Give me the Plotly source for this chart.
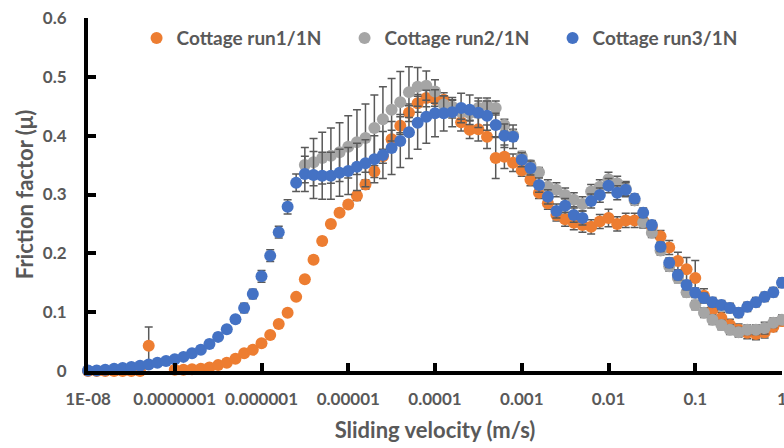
import plotly.graph_objects as go

# Sliding velocity (m/s), ten points per decade from 1E-08 to 1
velocity = [
    1.00e-8, 1.26e-8, 1.58e-8, 2.00e-8, 2.51e-8, 3.16e-8, 3.98e-8, 5.01e-8, 6.31e-8, 7.94e-8,
    1.00e-7, 1.26e-7, 1.58e-7, 2.00e-7, 2.51e-7, 3.16e-7, 3.98e-7, 5.01e-7, 6.31e-7, 7.94e-7,
    1.00e-6, 1.26e-6, 1.58e-6, 2.00e-6, 2.51e-6, 3.16e-6, 3.98e-6, 5.01e-6, 6.31e-6, 7.94e-6,
    1.00e-5, 1.26e-5, 1.58e-5, 2.00e-5, 2.51e-5, 3.16e-5, 3.98e-5, 5.01e-5, 6.31e-5, 7.94e-5,
    1.00e-4, 1.26e-4, 1.58e-4, 2.00e-4, 2.51e-4, 3.16e-4, 3.98e-4, 5.01e-4, 6.31e-4, 7.94e-4,
    1.00e-3, 1.26e-3, 1.58e-3, 2.00e-3, 2.51e-3, 3.16e-3, 3.98e-3, 5.01e-3, 6.31e-3, 7.94e-3,
    1.00e-2, 1.26e-2, 1.58e-2, 2.00e-2, 2.51e-2, 3.16e-2, 3.98e-2, 5.01e-2, 6.31e-2, 7.94e-2,
    1.00e-1, 1.26e-1, 1.58e-1, 2.00e-1, 2.51e-1, 3.16e-1, 3.98e-1, 5.01e-1, 6.31e-1, 7.94e-1,
    1.00,
]

# Friction factor, run 1
run1_mu = [
    0.000, 0.000, 0.000, 0.000, 0.000, 0.000, 0.000, 0.043, None, None,
    0.002, 0.002, 0.003, 0.004, 0.006, 0.010, 0.014, 0.021, 0.030, 0.036,
    0.047, 0.061, 0.080, 0.099, 0.126, 0.156, 0.189, 0.221, 0.250, 0.269,
    0.283, 0.298, 0.317, 0.339, 0.365, 0.394, 0.417, 0.439, 0.455, 0.464,
    0.462, 0.461, 0.445, 0.423, 0.410, 0.411, 0.398, 0.362, 0.364, 0.354,
    0.341, 0.325, 0.303, 0.285, 0.265, 0.258, 0.252, 0.248, 0.245, 0.254,
    0.260, 0.250, 0.256, 0.256, 0.255, 0.245, 0.229, 0.210, 0.187, 0.173,
    0.158, 0.128, 0.104, 0.090, 0.078, 0.070, 0.065, 0.063, 0.066, 0.075,
    0.085,
]
run1_err = [
    0.003, 0.003, 0.003, 0.003, 0.003, 0.003, 0.003, 0.032, 0.000, 0.000,
    0.003, 0.003, 0.003, 0.003, 0.003, 0.003, 0.004, 0.004, 0.004, 0.004,
    0.005, 0.005, 0.005, 0.005, 0.005, 0.005, 0.006, 0.006, 0.006, 0.006,
    0.006, 0.008, 0.008, 0.010, 0.012, 0.015, 0.015, 0.015, 0.015, 0.015,
    0.012, 0.012, 0.015, 0.015, 0.015, 0.020, 0.020, 0.035, 0.020, 0.015,
    0.010, 0.010, 0.010, 0.010, 0.010, 0.012, 0.012, 0.012, 0.012, 0.012,
    0.015, 0.012, 0.012, 0.012, 0.012, 0.010, 0.010, 0.012, 0.015, 0.020,
    0.030, 0.012, 0.010, 0.010, 0.010, 0.010, 0.010, 0.010, 0.010, 0.008,
    0.008,
]

# Friction factor, run 2
run2_mu = [
    None, None, None, None, None, None, None, None, None, None,
    None, None, None, None, None, None, None, None, None, None,
    None, None, None, None, None, 0.350, 0.355, 0.362, 0.366, 0.372,
    0.381, 0.389, 0.396, 0.413, 0.428, 0.444, 0.457, 0.474, 0.483, 0.485,
    0.475, 0.453, 0.449, 0.440, 0.438, 0.447, 0.452, 0.447, 0.418, 0.401,
    0.365, 0.350, 0.338, 0.313, 0.308, 0.299, 0.291, 0.284, 0.305, 0.313,
    0.326, 0.319, 0.310, 0.290, 0.253, 0.235, 0.205, 0.178, 0.158, 0.134,
    0.112, 0.099, 0.087, 0.078, 0.070, 0.066, 0.070, 0.070, 0.073, 0.082,
    0.087,
]
run2_err = [
    0, 0, 0, 0, 0, 0, 0, 0, 0, 0,
    0, 0, 0, 0, 0, 0, 0, 0, 0, 0,
    0, 0, 0, 0, 0, 0.030, 0.040, 0.044, 0.047, 0.050,
    0.053, 0.055, 0.058, 0.056, 0.055, 0.053, 0.052, 0.043, 0.033, 0.025,
    0.020, 0.015, 0.012, 0.012, 0.012, 0.012, 0.012, 0.012, 0.010, 0.010,
    0.008, 0.008, 0.008, 0.012, 0.012, 0.012, 0.012, 0.012, 0.012, 0.012,
    0.012, 0.012, 0.012, 0.008, 0.008, 0.008, 0.008, 0.008, 0.008, 0.008,
    0.008, 0.008, 0.008, 0.008, 0.008, 0.008, 0.008, 0.008, 0.010, 0.008,
    0.008,
]

# Friction factor, run 3
run3_mu = [
    0.001, 0.001, 0.002, 0.004, 0.005, 0.007, 0.009, 0.011, 0.014, 0.017,
    0.020, 0.024, 0.030, 0.036, 0.046, 0.058, 0.071, 0.088, 0.107, 0.131,
    0.161, 0.196, 0.236, 0.279, 0.320, 0.335, 0.333, 0.332, 0.332, 0.337,
    0.340, 0.347, 0.353, 0.360, 0.367, 0.379, 0.391, 0.406, 0.422, 0.432,
    0.438, 0.438, 0.440, 0.447, 0.444, 0.439, 0.434, 0.418, 0.400, 0.398,
    0.359, 0.345, 0.316, 0.296, 0.272, 0.281, 0.265, 0.260, 0.289, 0.299,
    0.315, 0.303, 0.308, 0.293, 0.269, 0.248, 0.211, 0.184, 0.163, 0.146,
    0.133, 0.124, 0.117, 0.112, 0.107, 0.099, 0.109, 0.117, 0.126, 0.134,
    0.150,
]
run3_err = [
    0.003, 0.003, 0.003, 0.003, 0.003, 0.003, 0.003, 0.003, 0.003, 0.003,
    0.003, 0.003, 0.006, 0.006, 0.006, 0.006, 0.006, 0.006, 0.008, 0.008,
    0.010, 0.010, 0.010, 0.012, 0.015, 0.030, 0.040, 0.040, 0.040, 0.040,
    0.040, 0.040, 0.040, 0.040, 0.040, 0.045, 0.045, 0.045, 0.045, 0.045,
    0.040, 0.030, 0.025, 0.025, 0.025, 0.025, 0.025, 0.020, 0.020, 0.020,
    0.012, 0.012, 0.012, 0.012, 0.012, 0.012, 0.012, 0.012, 0.012, 0.012,
    0.012, 0.012, 0.012, 0.008, 0.008, 0.008, 0.008, 0.008, 0.008, 0.008,
    0.008, 0.008, 0.008, 0.008, 0.008, 0.008, 0.008, 0.008, 0.008, 0.008,
    0.008,
]

series_names = ["Cottage run1/1N", "Cottage run2/1N", "Cottage run3/1N"]
series_colors = ["#ED7D31", "#A5A5A5", "#4472C4"]

x_tickvals = [1e-8, 1e-7, 1e-6, 1e-5, 1e-4, 1e-3, 1e-2, 1e-1, 1]
x_ticktext = ["1E-08", "0.0000001", "0.000001", "0.00001", "0.0001", "0.001", "0.01", "0.1", "1"]
y_tickvals = [0, 0.1, 0.2, 0.3, 0.4, 0.5, 0.6]
y_ticktext = ["0", "0.1", "0.2", "0.3", "0.4", "0.5", "0.6"]

FONT = "Lato"
TEXT_GREY = "#595959"
ERR_GREY = "#595959"

fig = go.Figure()
for name, color, mu, err in zip(series_names, series_colors,
                                [run1_mu, run2_mu, run3_mu],
                                [run1_err, run2_err, run3_err]):
    fig.add_trace(go.Scatter(
        x=velocity, y=mu, name=name, mode="markers",
        marker=dict(color=color, size=12, line=dict(width=0)),
        error_y=dict(type="data", array=err, visible=True,
                     color=ERR_GREY, thickness=1.5, width=4),
        cliponaxis=False,
    ))

fig.update_layout(
    width=784, height=448,
    margin=dict(l=88, r=2, t=18, b=77, autoexpand=False),
    paper_bgcolor="white", plot_bgcolor="white",
    font=dict(family=FONT, color=TEXT_GREY, size=16),
    showlegend=True,
    legend=dict(
        orientation="h", x=0.07, xanchor="left", y=0.943, yanchor="middle",
        font=dict(family=FONT, size=19, color=TEXT_GREY, weight="bold"),
        entrywidth=163, entrywidthmode="pixels",
        bgcolor="rgba(0,0,0,0)", itemsizing="constant",
    ),
    xaxis=dict(
        type="log", range=[-8, 0],
        tickvals=x_tickvals, ticktext=x_ticktext,
        showgrid=False, zeroline=False,
        showline=True, linecolor="black", linewidth=4,
        ticks="inside", ticklen=8, tickwidth=4, tickcolor="black",
        tickfont=dict(family=FONT, size=17, color=TEXT_GREY, weight="bold"),
        ticklabelstandoff=10, ticklabeloverflow="allow",
        title=dict(text="Sliding velocity (m/s)", standoff=15,
                   font=dict(family=FONT, size=22, color=TEXT_GREY, weight="bold")),
    ),
    yaxis=dict(
        range=[0, 0.6],
        tickvals=y_tickvals, ticktext=y_ticktext,
        showgrid=False, zeroline=False,
        showline=True, linecolor="black", linewidth=4,
        ticks="inside", ticklen=8, tickwidth=4, tickcolor="black",
        tickfont=dict(family=FONT, size=17, color=TEXT_GREY, weight="bold"),
        ticklabelstandoff=14,
        title=dict(text="Friction factor (μ)", standoff=4,
                   font=dict(family=FONT, size=22, color=TEXT_GREY, weight="bold")),
    ),
)

fig.write_html("out.html")
